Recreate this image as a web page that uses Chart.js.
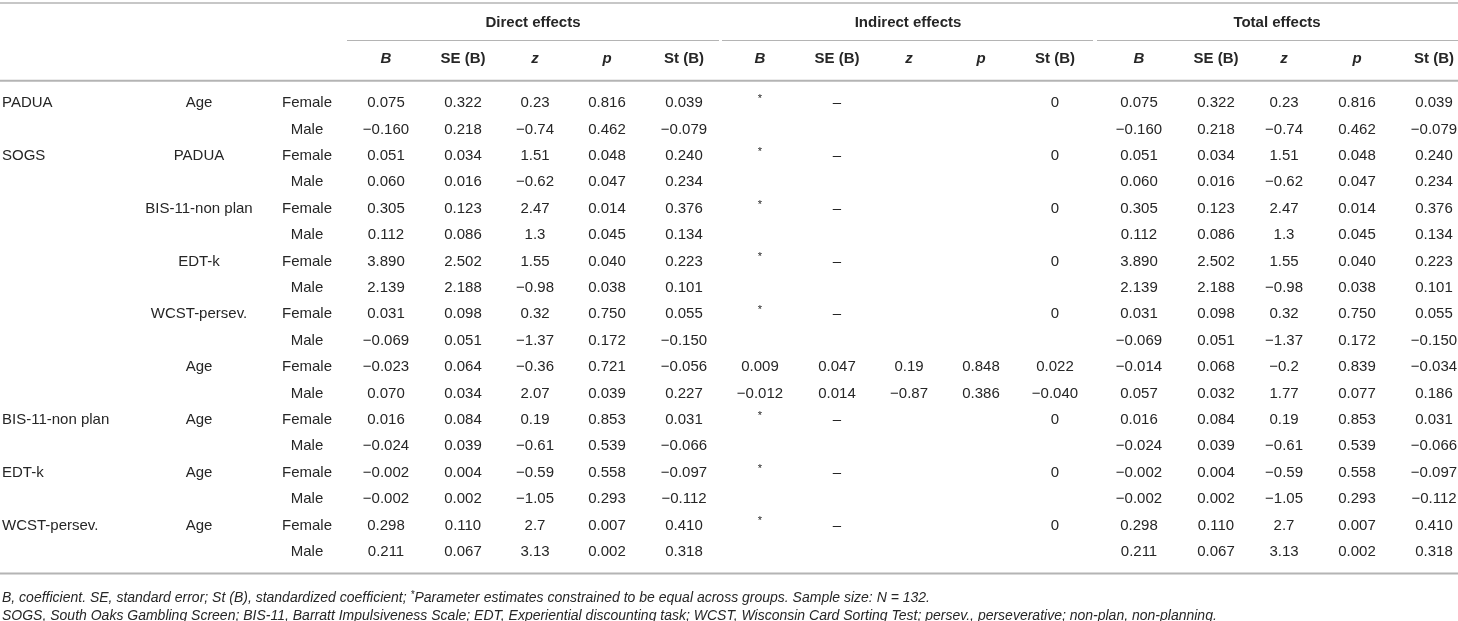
<!DOCTYPE html>
<html>
<head>
<meta charset="utf-8">
<title>Direct, indirect and total effects</title>
<script src="https://cdn.jsdelivr.net/npm/chart.js@4.4.1/dist/chart.umd.min.js"></script>
<style>
    html, body { margin: 0; padding: 0; background: #fff; }
    #wrap { width: 1458px; height: 621px; position: relative; }
</style>
</head>
<body>
<div id="wrap"><canvas id="effectsTable"></canvas></div>
<script>
// ----- table data -----
const outcomes   = ['PADUA', '', 'SOGS', '', '', '', '', '', '', '', '', '', 'BIS-11-non plan', '', 'EDT-k', '', 'WCST-persev.', ''];
const predictors = ['Age', '', 'PADUA', '', 'BIS-11-non plan', '', 'EDT-k', '', 'WCST-persev.', '', 'Age', '', 'Age', '', 'Age', '', 'Age', ''];
const groups     = ['Female', 'Male', 'Female', 'Male', 'Female', 'Male', 'Female', 'Male', 'Female', 'Male',
                    'Female', 'Male', 'Female', 'Male', 'Female', 'Male', 'Female', 'Male'];

const effectGroups = ['Direct effects', 'Indirect effects', 'Total effects'];
const statLabels   = ['B', 'SE (B)', 'z', 'p', 'St (B)'];

const directB  = [0.075, -0.160, 0.051, 0.060, 0.305, 0.112, 3.890, 2.139, 0.031, -0.069, -0.023, 0.070, 0.016, -0.024, -0.002, -0.002, 0.298, 0.211];
const directSE = [0.322, 0.218, 0.034, 0.016, 0.123, 0.086, 2.502, 2.188, 0.098, 0.051, 0.064, 0.034, 0.084, 0.039, 0.004, 0.002, 0.110, 0.067];
const directZ  = [0.23, -0.74, 1.51, -0.62, 2.47, 1.3, 1.55, -0.98, 0.32, -1.37, -0.36, 2.07, 0.19, -0.61, -0.59, -1.05, 2.7, 3.13];
const directP  = [0.816, 0.462, 0.048, 0.047, 0.014, 0.045, 0.040, 0.038, 0.750, 0.172, 0.721, 0.039, 0.853, 0.539, 0.558, 0.293, 0.007, 0.002];
const directSt = [0.039, -0.079, 0.240, 0.234, 0.376, 0.134, 0.223, 0.101, 0.055, -0.150, -0.056, 0.227, 0.031, -0.066, -0.097, -0.112, 0.410, 0.318];

// 그룹 간 동일하게 제약된 추정치 (*, –)
const constrained = [true, false, true, false, true, false, true, false, true, false, false, false, true, false, true, false, true, false];
const indirectB  = [null, null, null, null, null, null, null, null, null, null, 0.009, -0.012, null, null, null, null, null, null];
const indirectSE = [null, null, null, null, null, null, null, null, null, null, 0.047, 0.014, null, null, null, null, null, null];
const indirectZ  = [null, null, null, null, null, null, null, null, null, null, 0.19, -0.87, null, null, null, null, null, null];
const indirectP  = [null, null, null, null, null, null, null, null, null, null, 0.848, 0.386, null, null, null, null, null, null];
const indirectSt = [0, null, 0, null, 0, null, 0, null, 0, null, 0.022, -0.040, 0, null, 0, null, 0, null];

const totalB  = [0.075, -0.160, 0.051, 0.060, 0.305, 0.112, 3.890, 2.139, 0.031, -0.069, -0.014, 0.057, 0.016, -0.024, -0.002, -0.002, 0.298, 0.211];
const totalSE = [0.322, 0.218, 0.034, 0.016, 0.123, 0.086, 2.502, 2.188, 0.098, 0.051, 0.068, 0.032, 0.084, 0.039, 0.004, 0.002, 0.110, 0.067];
const totalZ  = [0.23, -0.74, 1.51, -0.62, 2.47, 1.3, 1.55, -0.98, 0.32, -1.37, -0.2, 1.77, 0.19, -0.61, -0.59, -1.05, 2.7, 3.13];
const totalP  = [0.816, 0.462, 0.048, 0.047, 0.014, 0.045, 0.040, 0.038, 0.750, 0.172, 0.839, 0.077, 0.853, 0.539, 0.558, 0.293, 0.007, 0.002];
const totalSt = [0.039, -0.079, 0.240, 0.234, 0.376, 0.134, 0.223, 0.101, 0.055, -0.150, -0.034, 0.186, 0.031, -0.066, -0.097, -0.112, 0.410, 0.318];

const footnotes = [
    'B, coefficient. SE, standard error; St (B), standardized coefficient; *Parameter estimates constrained to be equal across groups. Sample size: N = 132.',
    'SOGS, South Oaks Gambling Screen; BIS-11, Barratt Impulsiveness Scale; EDT, Experiential discounting task; WCST, Wisconsin Card Sorting Test; persev., perseverative; non-plan, non-planning.'
];

// ----- layout (x in canvas units, y in row units: data rows are 0..17) -----
const statColX = {
    direct:   [386, 463, 535, 607, 684],
    indirect: [760, 837, 909, 981, 1055],
    total:    [1139, 1216, 1284, 1357, 1434]
};
const outcomeX = 2, predictorX = 199, groupX = 307;
const groupTitleX = [533, 908, 1277];
const groupRuleX = [[347, 719], [722, 1093], [1097, 1458]];
const statItalic = [true, false, true, true, false];
const rowY = { groupTitle: -3.04, statHead: -1.67, foot: [18.76, 19.42] };
const rules = [
    { y: -3.79, x0: 0, x1: 1458, w: 1.5 },
    { y: -0.84, x0: 0, x1: 1458, w: 2 },
    { y: 17.82, x0: 0, x1: 1458, w: 2 }
];
const groupRuleY = -2.39;

const TEXT = '#262626';
const RULE = '#b4b4b4';
const FAMILY = '"Liberation Sans", Arial, Helvetica, sans-serif';

// ----- formatting -----
function fmt3(v) {
    if (v === null || v === undefined) return '';
    if (v === 0) return '0';
    return v.toFixed(3).replace('-', '\u2212');
}
function fmtZ(v) {
    if (v === null || v === undefined) return '';
    return String(v).replace('-', '\u2212');
}

// 한 열의 셀을 scatter 포인트로 만들기
function columnPoints(x, values, fmt) {
    return values.map((v, i) => ({ x: x, y: i, t: fmt ? fmt(v) : v }));
}

function statDatasets(colX, cols) {
    const fmts = [fmt3, fmt3, fmtZ, fmt3, fmt3];
    const pts = [];
    cols.forEach((vals, c) => pts.push(...columnPoints(colX[c], vals, fmts[c])));
    return pts;
}

const bodyFont = '15px ' + FAMILY;
const datasets = [
    { label: 'outcome',   data: columnPoints(outcomeX, outcomes),     font: bodyFont, align: 'left' },
    { label: 'predictor', data: columnPoints(predictorX, predictors), font: bodyFont, align: 'center' },
    { label: 'group',     data: columnPoints(groupX, groups),         font: bodyFont, align: 'center' },
    { label: 'direct',   data: statDatasets(statColX.direct, [directB, directSE, directZ, directP, directSt]), font: bodyFont, align: 'center' },
    { label: 'indirect', data: statDatasets(statColX.indirect, [indirectB, indirectSE, indirectZ, indirectP, indirectSt]), font: bodyFont, align: 'center' },
    { label: 'total',    data: statDatasets(statColX.total, [totalB, totalSE, totalZ, totalP, totalSt]), font: bodyFont, align: 'center' },
    { label: 'constrainedB',  data: columnPoints(statColX.indirect[0], constrained.map(c => c ? '*' : '')), font: '11px ' + FAMILY, align: 'center', dy: -4 },
    { label: 'constrainedSE', data: columnPoints(statColX.indirect[1], constrained.map(c => c ? '\u2013' : '')), font: bodyFont, align: 'center' },
    { label: 'groupTitles', data: effectGroups.map((g, i) => ({ x: groupTitleX[i], y: rowY.groupTitle, t: g })), font: 'bold 15px ' + FAMILY, align: 'center' }
];
// 통계량 헤더 (B, SE (B), z, p, St (B)) - 각 효과 그룹마다
['direct', 'indirect', 'total'].forEach(key => {
    statLabels.forEach((lab, c) => {
        datasets.push({
            label: key + '-' + lab,
            data: [{ x: statColX[key][c], y: rowY.statHead, t: lab }],
            font: (statItalic[c] ? 'italic ' : '') + 'bold 15px ' + FAMILY,
            align: 'center'
        });
    });
});
datasets.push({
    label: 'footnotes',
    data: footnotes.map((f, i) => ({ x: outcomeX, y: rowY.foot[i], t: f })),
    font: 'italic 14px ' + FAMILY,
    align: 'left',
    footnote: true
});
datasets.forEach(ds => { ds.pointRadius = 0; ds.pointHoverRadius = 0; ds.showLine = false; });

// 가로 구분선
const rulesPlugin = {
    id: 'tableRules',
    beforeDatasetsDraw(chart) {
        const { ctx, scales: { x, y } } = chart;
        ctx.save();
        ctx.strokeStyle = RULE;
        rules.forEach(r => {
            const py = y.getPixelForValue(r.y);
            ctx.lineWidth = r.w;
            ctx.beginPath();
            ctx.moveTo(x.getPixelForValue(r.x0), py);
            ctx.lineTo(x.getPixelForValue(r.x1), py);
            ctx.stroke();
        });
        ctx.lineWidth = 1;
        const gy = Math.round(y.getPixelForValue(groupRuleY)) + 0.5;
        groupRuleX.forEach(([a, b]) => {
            ctx.beginPath();
            ctx.moveTo(x.getPixelForValue(a), gy);
            ctx.lineTo(x.getPixelForValue(b), gy);
            ctx.stroke();
        });
        ctx.restore();
    }
};

// 셀 텍스트 그리기 (포인트 위치 사용)
const cellTextPlugin = {
    id: 'cellText',
    afterDatasetsDraw(chart) {
        const ctx = chart.ctx;
        ctx.save();
        ctx.fillStyle = TEXT;
        ctx.textBaseline = 'middle';
        chart.data.datasets.forEach((ds, di) => {
            const meta = chart.getDatasetMeta(di);
            ctx.font = ds.font;
            ctx.textAlign = ds.align;
            meta.data.forEach((pt, j) => {
                const t = ds.data[j].t;
                if (!t) return;
                if (ds.footnote && t.includes('*')) {
                    // 각주 안의 * 는 위첨자로
                    const [pre, post] = t.split('*');
                    let px = pt.x;
                    ctx.fillText(pre, px, pt.y);
                    px += ctx.measureText(pre).width;
                    ctx.font = 'italic 10px ' + FAMILY;
                    ctx.fillText('*', px, pt.y - 3);
                    px += ctx.measureText('*').width;
                    ctx.font = ds.font;
                    ctx.fillText(post, px, pt.y);
                } else {
                    ctx.fillText(t, pt.x, pt.y + (ds.dy || 0));
                }
            });
        });
        ctx.restore();
    }
};

new Chart(document.getElementById('effectsTable'), {
    type: 'scatter',
    data: { datasets: datasets },
    options: {
        responsive: true,
        maintainAspectRatio: false,
        animation: false,
        events: [],
        layout: { padding: 0 },
        plugins: { legend: { display: false }, tooltip: { enabled: false } },
        scales: {
            x: { type: 'linear', display: false, min: 0, max: 1458 },
            y: { type: 'linear', display: false, reverse: true, min: -3.9, max: 19.62 }
        }
    },
    plugins: [rulesPlugin, cellTextPlugin]
});
</script>
</body>
</html>
